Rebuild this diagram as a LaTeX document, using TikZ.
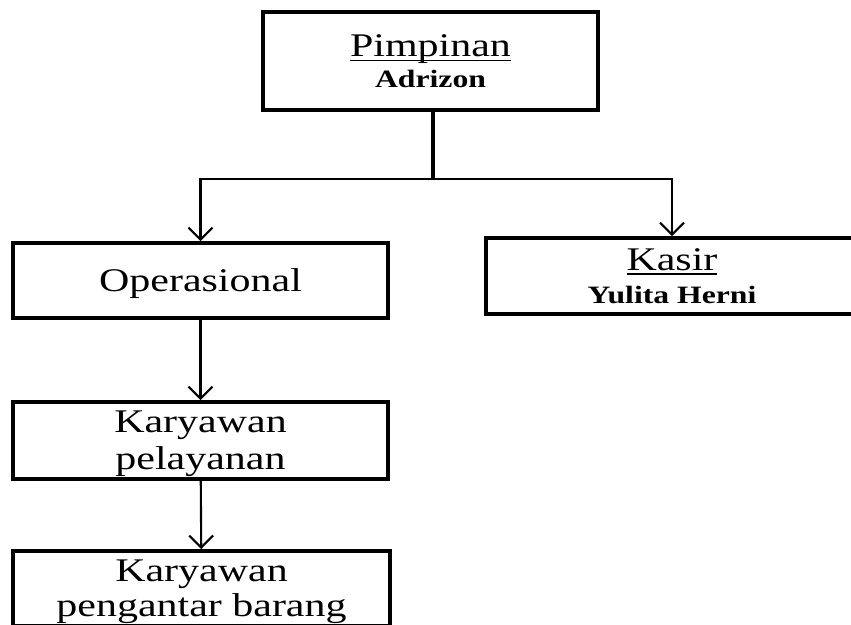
\documentclass[tikz,border=0pt]{standalone}
\usepackage{fontspec}
\setmainfont[FakeStretch=1.27]{Liberation Serif}
\usepackage{tikz}
\usetikzlibrary{positioning,arrows.meta}
\newcommand{\garisbawah}[1]{\leavevmode\setbox0=\hbox{#1}\rlap{\rule[-1.3pt]{\wd0}{0.45pt}}\box0}
\newcommand{\namaorang}[1]{{\fontsize{7.1}{8}\selectfont\bfseries #1}}
\tikzset{
  linkarrow/.style={-{Straight Barb[length=1.2mm,width=2.4mm]}, line width=0.6pt},
  orgbox/.style={draw, line width=1.1pt, inner sep=0pt, align=center, text depth=0pt, font=\fontsize{9.4}{10}\selectfont}
}
\begin{document}
\begin{tikzpicture}[x=0.01cm, y=-0.01cm]
  \useasboundingbox (0,0) rectangle (851,625);
  \node[orgbox, minimum width=3.35cm, minimum height=0.98cm, font=\fontsize{9.4}{8.7}\selectfont] (pimpinan) at (430.5,61) {\garisbawah{Pimpinan}\\\namaorang{Adrizon}};
  \node[orgbox, minimum width=3.75cm, minimum height=0.75cm] (operasional) at (200.5,280.5) {Operasional};
  \node[orgbox, minimum width=3.72cm, minimum height=0.76cm, font=\fontsize{9.4}{9.4}\selectfont] (kasir) at (672,276) {\garisbawah{Kasir}\\\namaorang{Yulita Herni}};
  \node[orgbox, minimum width=3.75cm, minimum height=0.77cm, font=\fontsize{9.4}{10.5}\selectfont] (pelayanan) at (200.5,440.5) {Karyawan\\pelayanan};
  \node[orgbox, minimum width=3.77cm, minimum height=0.75cm, font=\fontsize{9.4}{10}\selectfont] (pengantar) at (201.5,588.5) {Karyawan\\pengantar barang};
  \coordinate (cabang) at (433,179);
  \draw[line width=0.9pt] (pimpinan.south -| cabang) -- (cabang);
  \draw[linkarrow] (cabang) -| (operasional.north);
  \draw[linkarrow] (cabang) -| (kasir.north);
  \draw[linkarrow] (operasional) -- (pelayanan);
  \draw[linkarrow] (pelayanan) -- (pengantar);
\end{tikzpicture}
\end{document}
